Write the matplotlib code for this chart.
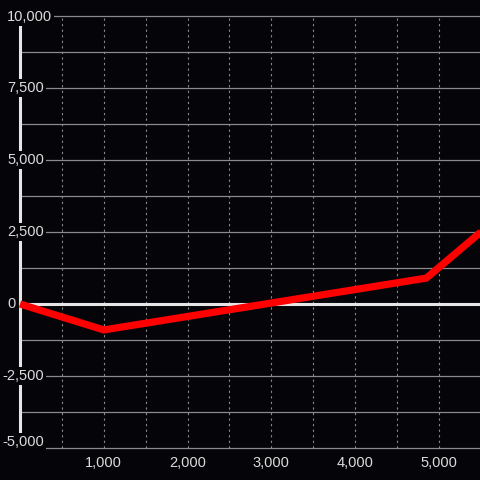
import numpy as np
import matplotlib.pyplot as plt

# data
xs = [0, 1000, 4850, 5500]
ys = [0, -900, 900, 2500]

y_ticks = [10000, 7500, 5000, 2500, 0, -2500, -5000]
y_grid = np.arange(-5000, 10001, 1250)
x_ticks = [1000, 2000, 3000, 4000, 5000]
x_grid = np.arange(500, 5001, 500)

bg = '#050408'
fg = '#dcdcdc'

plt.rcParams['font.family'] = ['Liberation Sans', 'DejaVu Sans']

fig = plt.figure(figsize=(4.8, 4.8), dpi=100)
fig.patch.set_facecolor(bg)
ax = fig.add_axes([0, 0, 1, 1])
ax.set_facecolor(bg)
ax.set_axis_off()
ax.set_xlim(-239, 5490)
ax.set_ylim(-6111, 10556)

# grid
for v in y_grid:
    ax.plot([0, 5600], [v, v], color='#8a8a8a', lw=0.9, zorder=1)
for v in x_grid:
    ax.plot([v, v], [-5000, 10000], color='#8a8a8a', lw=0.8,
            ls=(0, (2, 3)), zorder=1)

# zero line and y axis
ax.plot([0, 5600], [0, 0], color='#e6e6e6', lw=2.2, zorder=2)
ax.plot([0, 0], [-5000, 10000], color='#e6e6e6', lw=2.2, zorder=2)

# the series (drawn over the labels)
ax.plot(xs, ys, color='#ff0000', lw=5.2, solid_capstyle='butt',
        solid_joinstyle='miter', zorder=6)

# y labels sit on top of the axis with a dark box
for v in y_ticks:
    dx = -13 if v >= 0 else -18
    dy = 6 if v == y_ticks[-1] else (-1 if v == y_ticks[0] else 0)
    ax.annotate(f'{v:,}', xy=(0, v), xytext=(dx, dy),
                textcoords='offset pixels', ha='left', va='center',
                color=fg, fontsize=10.5, zorder=5,
                bbox=dict(boxstyle='square,pad=0.15', fc=bg, ec='none'))

for v in x_ticks:
    ax.annotate(f'{v:,}', xy=(v, -5000), xytext=(0, -15),
                textcoords='offset pixels', ha='center', va='center',
                color=fg, fontsize=10.5, zorder=5)

fig.savefig('out.png', dpi=100, facecolor=bg)
